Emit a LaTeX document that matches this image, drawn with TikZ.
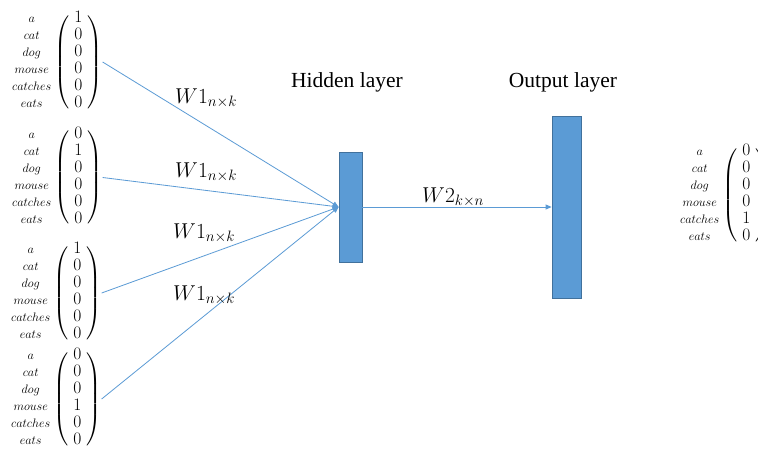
\RequirePackage{fix-cm}
\documentclass[tikz,border=0pt]{standalone}
\usepackage{amsmath}
\usepackage{array}
\usepackage{fontspec}
\newfontfamily\timesf{Liberation Serif}
\usetikzlibrary{arrows.meta}
\definecolor{nnblue}{HTML}{5B9BD5}
\definecolor{nnedge}{HTML}{41719C}
\newcommand{\onehot}[6]{$\delimitershortfall=14pt\delimiterfactor=800\begin{array}{@{}>{\scriptstyle}c@{}}a\\cat\\dog\\mouse\\catches\\eats\end{array}\mskip0mu\left(\begin{array}{c}#1\\#2\\#3\\#4\\#5\\#6\end{array}\right)$}
\tikzset{
  vec/.style={inner sep=0pt, anchor=west, font=\fontsize{17.5}{17}\selectfont},
  layer/.style={draw=nnedge, fill=nnblue, line width=0.8pt, inner sep=0pt},
  conn/.style={draw=nnblue, line width=0.8pt, -{Triangle[length=6pt,width=5pt]}},
  wlab/.style={anchor=base west, inner sep=0pt, font=\fontsize{21.5}{26}\selectfont},
  title/.style={anchor=base, inner sep=0pt, font=\timesf\fontsize{21.5}{26}\selectfont},
}
\begin{document}
\begin{tikzpicture}[x=1pt,y=-1pt]
\useasboundingbox (0,0) rectangle (758,450);
\clip (0,0) rectangle (758,450);
\fill[white] (0,0) rectangle (758,450);
% input one-hot vectors
\node[vec] (v1) at (12,62) {\onehot{1}{0}{0}{0}{0}{0}};
\node[vec] (v2) at (12,177.5) {\onehot{0}{1}{0}{0}{0}{0}};
\node[vec] (v3) at (11,293) {\onehot{1}{0}{0}{0}{0}{0}};
\node[vec] (v4) at (11,399) {\onehot{0}{0}{0}{1}{0}{0}};
% output vector
\node[vec] (v5) at (680,195) {\onehot{0}{0}{0}{0}{1}{0}};
% layers
\node[layer, minimum width=23pt, minimum height=110pt] (h) at (350.5,207) {};
\node[layer, minimum width=29pt, minimum height=182pt] (o) at (566.5,207) {};
% titles
\node[title] (ht) at (347,87) {Hidden layer};
\node[title] (ot) at (563,87) {Output layer};
% connectors
\draw[conn] (v1.east) -- (h.west);
\draw[conn] (v2.east) -- (h.west);
\draw[conn] (v3.east) -- (h.west);
\draw[conn] (v4.east) -- (h.west);
\draw[conn] (h.east) -- (o.west);
% weight labels
\node[wlab] (w1a) at (175,103) {$W1_{n\times k}$};
\node[wlab] (w1b) at (175,177) {$W1_{n\times k}$};
\node[wlab] (w1c) at (173,238) {$W1_{n\times k}$};
\node[wlab] (w1d) at (173,300) {$W1_{n\times k}$};
\node[wlab] (w2) at (422,202) {$W2_{k\times n}$};
\end{tikzpicture}
\end{document}
